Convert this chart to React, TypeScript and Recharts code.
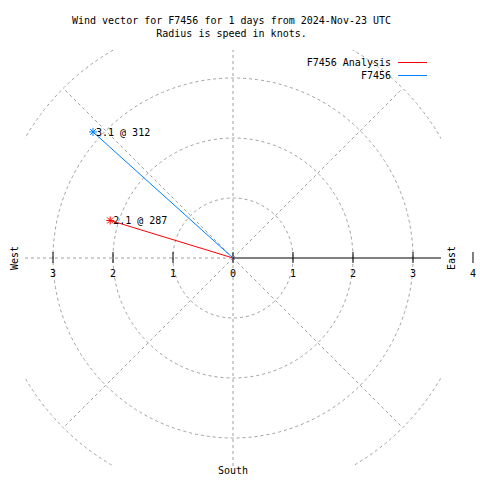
import React from 'react';
import { ScatterChart, Scatter, XAxis, YAxis, ReferenceArea, ReferenceLine, ReferenceDot } from 'recharts';

const TITLE_LINES = ['Wind vector for F7456 for 1 days from 2024-Nov-23 UTC', 'Radius is speed in knots.'];
const SERIES_NAMES = ['F7456 Analysis', 'F7456'];
const SERIES_COLORS = ['#ff0000', '#0080ff'];
const SPEEDS = [2.14, 3.14];
const DIRECTIONS = [287, 312];
const GRID_RADII = [1, 2, 3, 4];
const SPOKE_ANGLES = [45, 135, 225, 315];
const AXIS_TICKS = [-3, -2, -1, 0, 1, 2, 3, 4];

const LIMIT = 3.4667;
const FONT = '"DejaVu Sans Mono", monospace';
const GRID_COLOR = '#a0a0a0';
const DASH = '3 3';

const rad = (deg: number) => (deg * Math.PI) / 180;

// compass direction -> x/y (north up, east right)
const vectors = SPEEDS.map((s, i) => ({
    name: SERIES_NAMES[i],
    color: SERIES_COLORS[i],
    label: `${s.toFixed(1)} @ ${DIRECTIONS[i]}`,
    points: [
        { x: 0, y: 0, tip: false },
        { x: s * Math.sin(rad(DIRECTIONS[i])), y: s * Math.cos(rad(DIRECTIONS[i])), tip: true },
    ],
}));

// circle of radius r, clipped to the square plot box (gnuplot style)
const makeCircleShape = (r: number) => (props: any) => {
    const { x, y, width, height } = props;
    const cx = x + width / 2;
    const cy = y + height / 2;
    const rx = Math.abs(width) / 2;
    const ry = Math.abs(height) / 2;
    const px = (rx / r) * LIMIT;
    const py = (ry / r) * LIMIT;
    const id = `clip-circle-${r}`;
    return (
        <g>
            <clipPath id={id}>
                <rect x={cx - px} y={cy - py} width={2 * px} height={2 * py} />
            </clipPath>
            <ellipse
                cx={cx}
                cy={cy}
                rx={rx}
                ry={ry}
                fill="none"
                stroke={GRID_COLOR}
                strokeDasharray={DASH}
                clipPath={`url(#${id})`}
            />
        </g>
    );
};

const TickShape = (props: any) => {
    const { cx, cy, value } = props;
    return (
        <g>
            <line x1={cx} x2={cx} y1={cy - 6} y2={cy + 5} stroke="#000" />
            <text x={cx} y={cy + 19} textAnchor="middle" fontFamily={FONT} fontSize={10} fill="#000">
                {Math.abs(value)}
            </text>
        </g>
    );
};

const makeTipShape = (color: string, label: string) => (props: any) => {
    const { cx, cy, payload } = props;
    if (!payload || !payload.tip) return <g />;
    const r = 4;
    return (
        <g>
            <line x1={cx - r} x2={cx + r} y1={cy} y2={cy} stroke={color} />
            <line x1={cx} x2={cx} y1={cy - r} y2={cy + r} stroke={color} />
            <line x1={cx - 3} x2={cx + 3} y1={cy - 3} y2={cy + 3} stroke={color} />
            <line x1={cx - 3} x2={cx + 3} y1={cy + 3} y2={cy - 3} stroke={color} />
            <text x={cx + 3} y={cy + 4} fontFamily={FONT} fontSize={10} fill="#000">
                {label}
            </text>
        </g>
    );
};

const textStyle: React.CSSProperties = {
    position: 'absolute',
    fontFamily: FONT,
    fontSize: 10,
    lineHeight: '13px',
    color: '#000',
    whiteSpace: 'nowrap',
};

const App: React.FC = () => {
    return (
        <div style={{ position: 'absolute', left: 0, top: 0, width: 480, height: 480, background: '#fff' }}>
            <ScatterChart width={480} height={480} margin={{ top: 50, right: 39, bottom: 14, left: 25 }}>
                <XAxis type="number" dataKey="x" domain={[-LIMIT, LIMIT]} allowDataOverflow hide />
                <YAxis type="number" dataKey="y" domain={[-LIMIT, LIMIT]} allowDataOverflow hide />
                {GRID_RADII.map(r => (
                    <ReferenceArea
                        key={`c-${r}`}
                        x1={-r}
                        x2={r}
                        y1={-r}
                        y2={r}
                        ifOverflow="visible"
                        shape={makeCircleShape(r)}
                    />
                ))}
                {SPOKE_ANGLES.map(a => (
                    <ReferenceLine
                        key={`s-${a}`}
                        segment={[
                            { x: 0, y: 0 },
                            { x: 4 * Math.cos(rad(a)), y: 4 * Math.sin(rad(a)) },
                        ]}
                        stroke={GRID_COLOR}
                        strokeDasharray={DASH}
                        ifOverflow="hidden"
                    />
                ))}
                <ReferenceLine x={0} stroke={GRID_COLOR} strokeDasharray={DASH} />
                <ReferenceLine
                    segment={[{ x: -LIMIT, y: 0 }, { x: 0, y: 0 }]}
                    stroke={GRID_COLOR}
                    strokeDasharray={DASH}
                />
                <ReferenceLine segment={[{ x: 0, y: 0 }, { x: LIMIT, y: 0 }]} stroke="#000" />
                {AXIS_TICKS.map(t => (
                    <ReferenceDot
                        key={`t-${t}`}
                        x={t}
                        y={0}
                        ifOverflow="visible"
                        shape={(p: any) => <TickShape {...p} value={t} />}
                    />
                ))}
                {vectors.map(v => (
                    <Scatter
                        key={v.name}
                        name={v.name}
                        data={v.points}
                        line={{ stroke: v.color, strokeWidth: 1 }}
                        lineType="joint"
                        shape={makeTipShape(v.color, v.label)}
                        isAnimationActive={false}
                    />
                ))}
            </ScatterChart>

            <div style={{ ...textStyle, top: 14, left: 0, width: 463, textAlign: 'center' }}>
                {TITLE_LINES.map(l => (
                    <div key={l}>{l}</div>
                ))}
            </div>

            {vectors.map((v, i) => (
                <React.Fragment key={v.name}>
                    <div style={{ ...textStyle, top: 56 + i * 13, right: 89, textAlign: 'right' }}>{v.name}</div>
                    <div style={{ position: 'absolute', top: 62 + i * 13, left: 398, width: 29, height: 1, background: v.color }} />
                </React.Fragment>
            ))}

            <div style={{ ...textStyle, left: 14, top: 258, transform: 'translate(-50%, -50%) rotate(-90deg)' }}>West</div>
            <div style={{ ...textStyle, left: 451, top: 258, transform: 'translate(-50%, -50%) rotate(-90deg)' }}>East</div>
            <div style={{ ...textStyle, left: 233, top: 470, transform: 'translate(-50%, -50%)' }}>South</div>
        </div>
    );
};

export default App;
